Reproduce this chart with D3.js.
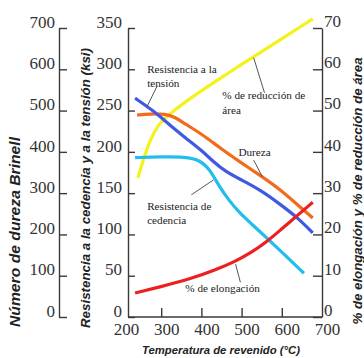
<!DOCTYPE html>
<html><head><meta charset="utf-8">
<script src="https://cdn.jsdelivr.net/npm/d3@7"></script>
<style>
html,body{margin:0;padding:0;background:#fff;}
svg{display:block;}
.serif{font-family:"Liberation Serif","Times New Roman","DejaVu Serif",serif !important;}
</style></head>
<body>
<svg id="chart" width="364" height="358"></svg>
<script>
// ---- data ----
const tempTicks = [200, 300, 400, 500, 600, 700];
const brinellTicks = [0, 100, 200, 300, 400, 500, 600, 700];
const ksiTicks = [0, 50, 100, 150, 200, 250, 300, 350];
const pctTicks = [0, 10, 20, 30, 40, 50, 60, 70];

const tensileT   = [235, 280, 320, 360, 400, 430, 460, 500, 550, 600, 640, 677];
const tensileKsi = [265, 250, 233, 217, 202, 188, 176, 166, 153, 135, 120, 102];

const hardT  = [240, 272, 310, 335, 360, 397, 447, 497, 552, 597, 640, 677];
const hardHB = [489, 492, 492, 484, 467, 446, 409, 375, 339, 308, 271, 240];

const yieldT   = [235, 297, 360, 397, 422, 442, 467, 497, 522, 560, 610, 655];
const yieldKsi = [193, 194, 194, 190, 178, 160, 142, 125, 114, 97, 74, 53];

const elongT   = [235, 297, 372, 435, 485, 522, 560, 597, 640, 677];
const elongPct = [5.8, 7.3, 9.2, 11.4, 13.5, 15.5, 18.0, 21.1, 24.7, 27.8];

const raT   = [242, 255, 272, 292, 317, 365, 440, 497, 560, 622, 677];
const raPct = [33.7, 38.0, 42.9, 46.5, 48.9, 52.5, 57.4, 61.0, 64.9, 68.8, 72.2];

const labels = [
  {lines: ["Resistencia a la", "tensión"], t: 265, v: 296, s: "ksi"},
  {lines: ["% de reducción de", "área"], t: 452, v: 52.7, s: "pct"},
  {lines: ["Dureza"], t: 492, v: 389, s: "hb"},
  {lines: ["Resistencia de", "cedencia"], t: 265, v: 130, s: "ksi"},
  {lines: ["% de elongación"], t: 360, v: 6.1, s: "pct"}
];
const leaders = [
  {t1: 290, v1: 280, t2: 265, v2: 255, s: "ksi"},
  {t1: 557, v1: 54.3, t2: 530, v2: 62.8, s: "pct"},
  {t1: 530, v1: 380, t2: 552, v2: 339, s: "hb"},
  {t1: 375, v1: 148, t2: 430, v2: 166, s: "ksi"},
  {t1: 485, v1: 12.8, t2: 497, v2: 8.4, s: "pct"}
];

// ---- scales ----
const x = d3.scaleLinear().domain([200, 700]).range([121, 322]);
const yK = d3.scaleLinear().domain([0, 350]).range([317, 28]);
const yB = d3.scaleLinear().domain([0, 700]).range([317, 28]);
const yP = d3.scaleLinear().domain([0, 70]).range([317, 28]);
const scales = {ksi: yK, hb: yB, pct: yP};

const svg = d3.select("#chart");
const axisColor = "#3a3a3a";
const serif = '"Liberation Serif","Times New Roman","DejaVu Serif",serif';
const sans = '"Liberation Sans",Arial,sans-serif';

function styleAxis(g) {
  g.attr("font-family", serif).attr("font-size", 17);
  g.selectAll("path.domain").attr("stroke", axisColor).attr("stroke-width", 1.4);
  g.selectAll(".tick line").attr("stroke", axisColor).attr("stroke-width", 1.4);
  g.selectAll(".tick text").attr("fill", "#333").attr("class", "serif")
    .attr("font-family", serif).attr("font-size", 17);
}

// Brinell axis (far left)
const gB = svg.append("g").attr("transform", "translate(59,0)")
  .call(d3.axisLeft(yB).tickValues(brinellTicks).tickSize(-8).tickSizeOuter(0).tickPadding(4));
styleAxis(gB);
gB.selectAll(".tick text").attr("dy", "-0.05em");

// ksi axis
const gK = svg.append("g").attr("transform", "translate(128,0)")
  .call(d3.axisLeft(yK).tickValues(ksiTicks).tickSize(-7).tickSizeOuter(0).tickPadding(6));
styleAxis(gK);
gK.selectAll(".tick text").attr("dy", "-0.05em");

// right % axis
const gP = svg.append("g").attr("transform", "translate(322,0)")
  .call(d3.axisRight(yP).tickValues(pctTicks).tickSize(-9).tickSizeOuter(0).tickPadding(2));
styleAxis(gP);
gP.selectAll(".tick text").attr("dy", "-0.1em");

// bottom axis
const gX = svg.append("g").attr("transform", "translate(0,317)")
  .call(d3.axisBottom(x).tickValues(tempTicks).tickSize(-9).tickSizeOuter(0).tickPadding(6));
styleAxis(gX);
gX.select("path.domain").remove();
gX.selectAll(".tick").filter(d => d === 200 || d === 700).select("line").remove();
gX.selectAll(".tick text").attr("dx", "5");
gX.append("line").attr("x1", 128).attr("x2", x(700)).attr("y1", 0).attr("y2", 0)
  .attr("stroke", axisColor).attr("stroke-width", 1.4);

// curves
const line = (ys) => d3.line().x(d => x(d[0])).y(d => ys(d[1])).curve(d3.curveBasis);
const series = [
  {t: raT, v: raPct, s: yP, c: "#f4f21c"},
  {t: yieldT, v: yieldKsi, s: yK, c: "#22bdee"},
  {t: hardT, v: hardHB, s: yB, c: "#f26b1d"},
  {t: tensileT, v: tensileKsi, s: yK, c: "#3f59e4"},
  {t: elongT, v: elongPct, s: yP, c: "#ee1f1f"}
];
series.forEach(sr => {
  svg.append("path")
    .datum(sr.t.map((t, i) => [t, sr.v[i]]))
    .attr("fill", "none").attr("stroke", sr.c).attr("stroke-width", 3.2)
    .attr("stroke-linecap", "butt")
    .attr("d", line(sr.s));
});

// leaders
leaders.forEach(l => {
  const s = scales[l.s];
  svg.append("line").attr("x1", x(l.t1)).attr("y1", s(l.v1)).attr("x2", x(l.t2)).attr("y2", s(l.v2))
    .attr("stroke", "#555").attr("stroke-width", 1);
});

// annotation labels
labels.forEach(lb => {
  const s = scales[lb.s];
  const t = svg.append("text").attr("x", x(lb.t)).attr("y", s(lb.v))
    .attr("class", "serif")
    .attr("fill", "#222").attr("font-family", serif).attr("font-size", 11.2);
  lb.lines.forEach((ln, i) => {
    t.append("tspan").attr("x", x(lb.t)).attr("dy", i === 0 ? 0 : 14.5).text(ln);
  });
});

// axis titles
function title(txt, tx, ty, rot, size, len) {
  svg.append("text")
    .attr("transform", `translate(${tx},${ty}) rotate(${rot})`)
    .attr("text-anchor", "middle").attr("dominant-baseline", "central")
    .attr("textLength", len).attr("lengthAdjust", "spacingAndGlyphs")
    .attr("fill", "#222")
    .attr("font-family", sans).attr("font-weight", "bold").attr("font-style", "italic")
    .attr("font-size", size)
    .text(txt);
}
title("Número de dureza Brinell", 15, 232, -90, 14, 190);
title("Resistencia a la cedencia y a la tensión (ksi)", 85, 188, -90, 13.5, 280);
title("% de elongación y % de reducción de área", 357, 191, -90, 13.5, 267);
title("Temperatura de revenido (°C)", 221, 350, 0, 11.5, 158);
</script>
</body></html>
